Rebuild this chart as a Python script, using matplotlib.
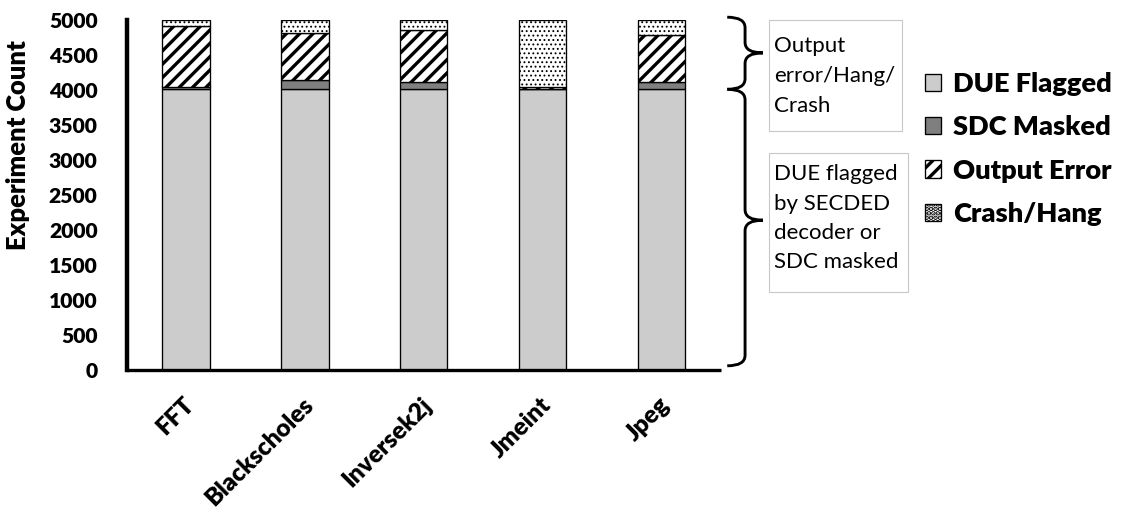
import matplotlib
matplotlib.use("Agg")
import matplotlib.pyplot as plt
import matplotlib.patches as mpatches
import matplotlib.transforms as mtransforms
from matplotlib.path import Path
import numpy as np

# ── Data ─────────────────────────────────────────────────────────────────────
categories = ["FFT", "Blackscholes", "Inversek2j", "Jmeint", "Jpeg"]
due_flagged = [4010, 4010, 4010, 4010, 4010]
sdc_masked = [40, 130, 110, 5, 100]
output_error = [870, 680, 740, 25, 680]
crash_hang = [80, 180, 140, 960, 210]
yticks = [0, 500, 1000, 1500, 2000, 2500, 3000, 3500, 4000, 4500, 5000]

DPI = 80
W, H = 1125, 512
plt.rcParams["font.family"] = ["Lato", "DejaVu Sans"]
plt.rcParams["hatch.linewidth"] = 3.0
BOLD = "heavy"


def fx(px):
    return px / W


def fy(py):
    return 1 - py / H


fig = plt.figure(figsize=(W / DPI, H / DPI), dpi=DPI)
ax = fig.add_axes([fx(126.5), fy(370), fx(720.7) - fx(126.5), fy(20) - fy(370)])

x = np.arange(len(categories))
bw = 0.40
edge = dict(edgecolor="black", linewidth=1.2)

b1 = ax.bar(x, due_flagged, bw, color="#cccccc", **edge)
bottom = np.array(due_flagged, dtype=float)
b2 = ax.bar(x, sdc_masked, bw, bottom=bottom, color="#7f7f7f", **edge)
bottom += sdc_masked
b3 = ax.bar(x, output_error, bw, bottom=bottom, color="white", hatch="//", **edge)
bottom += output_error
with plt.rc_context({"hatch.linewidth": 1.0}):
    b4 = ax.bar(x, crash_hang, bw, bottom=bottom, color="white", hatch="...", **edge)
for p in b4:
    if hasattr(p, "set_hatch_linewidth"):
        p.set_hatch_linewidth(1.0)

ax.set_xlim(-0.5, 4.5)
ax.set_ylim(0, 5000)
ax.set_yticks(yticks)
ax.set_yticklabels([str(v) for v in yticks], fontsize=19, fontweight=BOLD)
ax.tick_params(axis="y", length=0, pad=26)
ax.set_xticks(x)
ax.set_xticklabels(categories, fontsize=22, fontweight=BOLD,
                   rotation=45, ha="right", va="top", rotation_mode="anchor")
ax.tick_params(axis="x", length=0, pad=21)
shift = mtransforms.ScaledTranslation(-3 / DPI, 0, fig.dpi_scale_trans)
for lab in ax.get_xticklabels():
    lab.set_transform(lab.get_transform() + shift)

for s in ("top", "right"):
    ax.spines[s].set_visible(False)
ax.spines["left"].set_linewidth(4)
ax.spines["bottom"].set_linewidth(3)
ax.spines["bottom"].set_capstyle("butt")

ax.set_ylabel("Experiment Count", fontsize=23, fontweight=BOLD, va="center")
ax.yaxis.set_label_coords(-0.183, 0.643)


# ── Curly braces ─────────────────────────────────────────────────────────────
def brace(ax, x0, w, y_bot, y_top, y_tip, r):
    xm, x1 = x0 + w / 2, x0 + w
    verts = [
        (x0, y_top), (xm, y_top), (xm, y_top - r),
        (xm, y_tip + r),
        (xm, y_tip), (x1, y_tip),
        (xm, y_tip), (xm, y_tip - r),
        (xm, y_bot + r),
        (xm, y_bot), (x0, y_bot),
    ]
    codes = [Path.MOVETO, Path.CURVE3, Path.CURVE3,
             Path.LINETO,
             Path.CURVE3, Path.CURVE3,
             Path.CURVE3, Path.CURVE3,
             Path.LINETO,
             Path.CURVE3, Path.CURVE3]
    tr = mtransforms.blended_transform_factory(ax.transAxes, ax.transData)
    ax.add_patch(mpatches.PathPatch(Path(verts, codes), facecolor="none",
                                    edgecolor="black", linewidth=2.6,
                                    transform=tr, clip_on=False))


brace(ax, 1.011, 0.06, 4010, 5040, 4530, 150)
brace(ax, 1.011, 0.06, 60, 4010, 2140, 150)

# ── Note boxes ───────────────────────────────────────────────────────────────
def note_box(x0, y0, x1, y1, lines, first_base, step):
    fig.add_artist(mpatches.Rectangle((fx(x0), fy(y1)), fx(x1) - fx(x0), fy(y0) - fy(y1),
                                      transform=fig.transFigure, facecolor="white",
                                      edgecolor="#c8c8c8", linewidth=1.0))
    for i, t in enumerate(lines):
        fig.text(fx(774), fy(first_base + i * step), t, fontsize=20,
                 ha="left", va="baseline")


note_box(769, 20, 902, 131, ["Output", "error/Hang/", "Crash"], 52, 30)
note_box(769, 153, 908, 292, ["DUE flagged", "by SECDED", "decoder or", "SDC masked"], 180, 29.5)

# ── Legend ───────────────────────────────────────────────────────────────────
handles = [b1, b2, b3, b4]
labels = ["DUE Flagged", "SDC Masked", "Output Error", "Crash/Hang"]
leg = fig.legend(handles, labels, loc="upper left", bbox_to_anchor=(fx(925), fy(72)),
                 frameon=False, prop={"size": 24.5, "weight": BOLD},
                 handlelength=0.59, handleheight=0.59, handletextpad=0.44,
                 labelspacing=0.71, borderaxespad=0, borderpad=0)

fig.savefig("out.png", dpi=DPI)
